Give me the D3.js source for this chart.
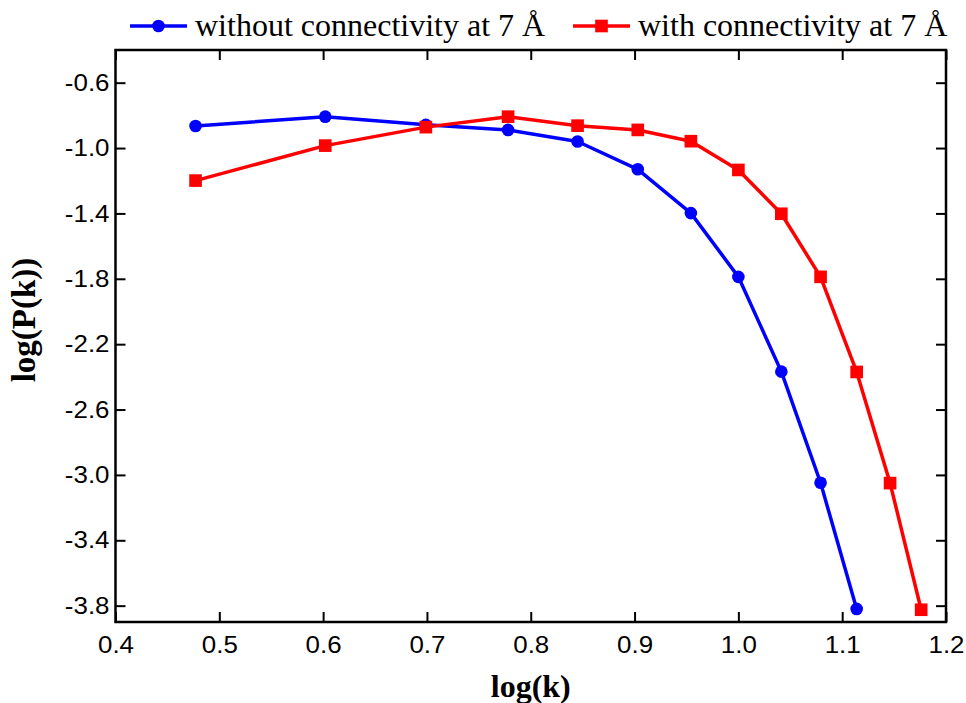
<!DOCTYPE html>
<html>
<head>
<meta charset="utf-8">
<script src="https://cdn.jsdelivr.net/npm/d3@7"></script>
<style>
  html, body { margin: 0; padding: 0; background: #fff; }
  svg { display: block; }
</style>
</head>
<body>
<svg id="chart" width="966" height="703"></svg>
<script>
// Degree k for each point; plotted as log10(k)
const degreesWithout = [3, 4, 5, 6, 7, 8, 9, 10, 11, 12, 13];
const degreesWith = [3, 4, 5, 6, 7, 8, 9, 10, 11, 12, 13, 14, 15];

// log(P(k)) values
const logPWithout = [-0.865, -0.808, -0.858, -0.889, -0.960, -1.130, -1.398, -1.788, -2.368, -3.048, -3.820];
const logPWith = [-1.199, -0.985, -0.872, -0.808, -0.863, -0.889, -0.958, -1.134, -1.402, -1.788, -2.370, -3.050, -3.825];

const xTicks = [0.4, 0.5, 0.6, 0.7, 0.8, 0.9, 1.0, 1.1, 1.2];
const yTicks = [-0.6, -1.0, -1.4, -1.8, -2.2, -2.6, -3.0, -3.4, -3.8];

const seriesNames = ["without connectivity at 7 Å", "with connectivity at 7 Å"];
const seriesColors = ["#0000ff", "#ff0000"];

const svg = d3.select("#chart");
const plotL = 115.5, plotR = 946, plotT = 50, plotB = 622;

const x = d3.scaleLinear().domain([0.4, 1.2]).range([plotL, plotR]);
const y = d3.scaleLinear().domain([-3.9, -0.4]).range([plotB, plotT]);

const tickFont = "'Liberation Sans', Arial, sans-serif";
const serif = "'Liberation Serif', 'Times New Roman', serif";
// one decimal, plain hyphen for negatives
const fmt = d => d.toFixed(1);
const stretch = 1.08;

// Axes with inward ticks on all four sides
function styleAxis(g) {
  g.select(".domain").remove();
  g.selectAll(".tick line").attr("stroke", "#000").attr("stroke-width", 2);
}

svg.append("g")
  .attr("transform", `translate(0,${plotB})`)
  .call(d3.axisBottom(x).tickValues(xTicks).tickFormat(fmt).tickSizeInner(-10).tickSizeOuter(0).tickPadding(14))
  .call(styleAxis)
  .call(g => g.selectAll(".tick text")
    .attr("font-family", tickFont).attr("font-size", 24).attr("fill", "#000")
    .attr("transform", `scale(${stretch},1)`));

svg.append("g")
  .attr("transform", `translate(0,${plotT})`)
  .call(d3.axisTop(x).tickValues(xTicks).tickFormat("").tickSizeInner(-10).tickSizeOuter(0))
  .call(styleAxis);

svg.append("g")
  .attr("transform", `translate(${plotL},0)`)
  .call(d3.axisLeft(y).tickValues(yTicks).tickFormat(fmt).tickSizeInner(-10).tickSizeOuter(0).tickPadding(6))
  .call(styleAxis)
  .call(g => g.selectAll(".tick text")
    .attr("font-family", tickFont).attr("font-size", 24).attr("fill", "#000")
    .attr("x", -6 / stretch)
    .attr("transform", `scale(${stretch},1)`));

svg.append("g")
  .attr("transform", `translate(${plotR},0)`)
  .call(d3.axisRight(y).tickValues(yTicks).tickFormat("").tickSizeInner(-10).tickSizeOuter(0))
  .call(styleAxis);

// Plot frame
svg.append("rect")
  .attr("x", plotL).attr("y", plotT)
  .attr("width", plotR - plotL).attr("height", plotB - plotT)
  .attr("fill", "none").attr("stroke", "#000").attr("stroke-width", 2.5);

// Series
const series = [
  { k: degreesWithout, v: logPWithout, color: seriesColors[0], shape: d3.symbolCircle, size: 125 },
  { k: degreesWith, v: logPWith, color: seriesColors[1], shape: d3.symbolSquare, size: 160 }
];

const line = d3.line().x(d => x(Math.log10(d[0]))).y(d => y(d[1]));

series.forEach(s => {
  const pts = s.k.map((k, i) => [k, s.v[i]]);
  svg.append("path")
    .datum(pts)
    .attr("d", line)
    .attr("fill", "none")
    .attr("stroke", s.color)
    .attr("stroke-width", 3.5)
    .attr("stroke-linejoin", "round");
  svg.append("g").selectAll("path")
    .data(pts)
    .join("path")
    .attr("d", d3.symbol().type(s.shape).size(s.size))
    .attr("transform", d => `translate(${x(Math.log10(d[0]))},${y(d[1])})`)
    .attr("fill", s.color);
});

// Legend
const legendX = [130, 573];
const legendY = 26;
series.forEach((s, i) => {
  const x0 = legendX[i];
  const g = svg.append("g");
  g.append("line")
    .attr("x1", x0).attr("x2", x0 + 57)
    .attr("y1", legendY).attr("y2", legendY)
    .attr("stroke", s.color).attr("stroke-width", 3.5);
  g.append("path")
    .attr("d", d3.symbol().type(s.shape).size(s.size))
    .attr("transform", `translate(${x0 + 28.5},${legendY})`)
    .attr("fill", s.color);
  g.append("text")
    .attr("x", x0 + 65).attr("y", 36)
    .attr("font-family", serif).attr("font-size", 32)
    .attr("fill", "#000")
    .text(seriesNames[i]);
});

// Axis titles
svg.append("text")
  .attr("x", (plotL + plotR) / 2).attr("y", 697)
  .attr("text-anchor", "middle")
  .attr("font-family", serif).attr("font-weight", "bold").attr("font-size", 32)
  .attr("fill", "#000")
  .text("log(k)");

svg.append("text")
  .attr("transform", "translate(35,320) rotate(-90)")
  .attr("text-anchor", "middle")
  .attr("font-family", serif).attr("font-weight", "bold").attr("font-size", 33)
  .attr("fill", "#000")
  .text("log(P(k))");
</script>
</body>
</html>
